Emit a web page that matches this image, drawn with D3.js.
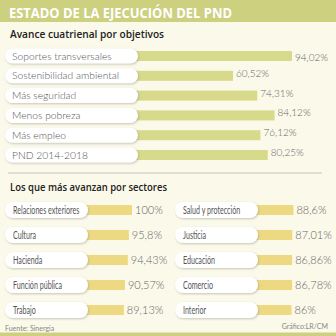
<!DOCTYPE html>
<html>
<head>
<meta charset="utf-8">
<script src="https://cdn.jsdelivr.net/npm/d3@7/dist/d3.min.js"></script>
<style>
  html, body { margin: 0; padding: 0; background: #fbf9ea; }
  svg { display: block; }
</style>
</head>
<body>
<script>
// Avance cuatrienal por objetivos
const objetivos = ["Soportes transversales", "Sostenibilidad ambiental", "Más seguridad", "Menos pobreza", "Más empleo", "PND 2014-2018"];
const objetivosValores = [94.02, 60.52, 74.31, 84.12, 76.12, 80.25];
const objetivosEtiquetas = ["94,02%", "60,52%", "74,31%", "84,12%", "76,12%", "80,25%"];

// Los que más avanzan por sectores (two columns)
const sectoresIzq = ["Relaciones exteriores", "Cultura", "Hacienda", "Función pública", "Trabajo"];
const valoresIzq = [100, 95.8, 94.43, 90.57, 89.13];
const etiquetasIzq = ["100%", "95,8%", "94,43%", "90,57%", "89,13%"];
const sectoresDer = ["Salud y protección", "Justicia", "Educación", "Comercio", "Interior"];
const valoresDer = [88.6, 87.01, 86.86, 86.78, 86];
const etiquetasDer = ["88,6%", "87,01%", "86,86%", "86,78%", "86%"];

const W = 336, H = 336;
const svg = d3.select("body").append("svg").attr("width", W).attr("height", H);

const defs = svg.append("defs");
const f = defs.append("filter").attr("id", "sh").attr("x", "-10%").attr("y", "-30%").attr("width", "120%").attr("height", "170%");
f.append("feDropShadow").attr("dx", 0.8).attr("dy", 1).attr("stdDeviation", 0.8).attr("flood-color", "#9a9a8a").attr("flood-opacity", 0.55);

svg.append("rect").attr("width", W).attr("height", H).attr("fill", "#fbf9ea");

// Header band
svg.append("rect").attr("x", 0).attr("y", 0).attr("width", W).attr("height", 22).attr("fill", "#cdd07f");
svg.append("text").attr("x", 9).attr("y", 17.5)
  .attr("font-family", "'Open Sans', sans-serif").attr("font-weight", 700).attr("font-size", 14.5)
  .attr("fill", "#ffffff").attr("textLength", 223).attr("lengthAdjust", "spacingAndGlyphs")
  .text("ESTADO DE LA EJECUCIÓN DEL PND");

// Bottom strip
svg.append("rect").attr("x", 0).attr("y", 332.5).attr("width", W).attr("height", 4).attr("fill", "#cdd07f");

// Section titles
svg.append("text").attr("x", 10).attr("y", 38)
  .attr("font-family", "'Open Sans', sans-serif").attr("font-weight", 600).attr("font-size", 11)
  .attr("fill", "#222").attr("textLength", 154).attr("lengthAdjust", "spacingAndGlyphs")
  .text("Avance cuatrienal por objetivos");

svg.append("text").attr("x", 10).attr("y", 191)
  .attr("font-family", "'Open Sans', sans-serif").attr("font-weight", 600).attr("font-size", 11)
  .attr("fill", "#222").attr("textLength", 157).attr("lengthAdjust", "spacingAndGlyphs")
  .text("Los que más avanzan por sectores");

svg.append("line").attr("x1", 8).attr("x2", 322).attr("y1", 173).attr("y2", 173)
  .attr("stroke", "#c4c4bc").attr("stroke-width", 1);

// Top chart
const xTop = d3.scaleLinear().domain([0, 100]).range([126.4, 302.5]);
const yTop = d3.scalePoint().domain(objetivos).range([56, 155]);
const topRows = objetivos.map((c, i) => ({ c, v: objetivosValores[i], l: objetivosEtiquetas[i] }));

const gTop = svg.append("g");
gTop.selectAll("rect.bar").data(topRows).join("rect").attr("class", "bar")
  .attr("x", xTop(0)).attr("y", d => yTop(d.c) - 5)
  .attr("width", d => xTop(d.v) - xTop(0)).attr("height", 10)
  .attr("fill", "#d7d98b");
gTop.selectAll("rect.pill").data(topRows).join("rect").attr("class", "pill")
  .attr("x", 5).attr("y", d => yTop(d.c) - 7.5)
  .attr("width", 133).attr("height", 15).attr("rx", 7.5)
  .attr("fill", "#ffffff").attr("filter", "url(#sh)");
gTop.selectAll("text.lab").data(topRows).join("text").attr("class", "lab")
  .attr("x", 12).attr("y", d => yTop(d.c) + 3.6)
  .attr("font-family", "Lato, sans-serif").attr("font-weight", 300).attr("font-size", 10.3)
  .attr("fill", "#555").text(d => d.c);
gTop.selectAll("text.val").data(topRows).join("text").attr("class", "val")
  .attr("x", d => xTop(d.v) + 3).attr("y", d => yTop(d.c) + (d.c === objetivos[0] ? 5 : 1))
  .attr("font-family", "Lato, sans-serif").attr("font-weight", 300).attr("font-size", 10)
  .attr("fill", "#666").text(d => d.l);

// Bottom two-column chart
function sectorColumn(cats, vals, labs, offset) {
  const x = d3.scaleLinear().domain([0, 100]).range([57 + offset, 132 + offset]);
  const y = d3.scalePoint().domain(cats).range([210, 310]);
  const data = cats.map((c, i) => ({ c, v: vals[i], l: labs[i] }));
  const g = svg.append("g");
  g.selectAll("rect.bar").data(data).join("rect").attr("class", "bar")
    .attr("x", x(0)).attr("y", d => y(d.c) - 5)
    .attr("width", d => x(d.v) - x(0)).attr("height", 10)
    .attr("fill", "#ecd982");
  g.selectAll("rect.pill").data(data).join("rect").attr("class", "pill")
    .attr("x", 5 + offset).attr("y", d => y(d.c) - 8)
    .attr("width", 83).attr("height", 16).attr("rx", 8)
    .attr("fill", "#ffffff").attr("filter", "url(#sh)");
  // condensed labels
  g.selectAll("text.lab").data(data).join("text").attr("class", "lab")
    .attr("transform", d => `translate(${13 + offset},${y(d.c) + 3.5}) scale(0.68,1)`)
    .attr("font-family", "Lato, sans-serif").attr("font-size", 10.5)
    .attr("fill", "#555").text(d => d.c);
  g.selectAll("text.val").data(data).join("text").attr("class", "val")
    .attr("x", d => x(d.v) + 3).attr("y", d => y(d.c) + 4)
    .attr("font-family", "Lato, sans-serif").attr("font-weight", 300).attr("font-size", 11)
    .attr("fill", "#666").text(d => d.l);
}
sectorColumn(sectoresIzq, valoresIzq, etiquetasIzq, 0);
sectorColumn(sectoresDer, valoresDer, etiquetasDer, 170);

// Footer
svg.append("text").attr("x", 5).attr("y", 331)
  .attr("font-family", "Lato, sans-serif").attr("font-size", 7).attr("fill", "#888")
  .text("Fuente: Sinergia");
svg.append("text").attr("x", 328).attr("y", 329).attr("text-anchor", "end")
  .attr("font-family", "Lato, sans-serif").attr("font-size", 7).attr("fill", "#888")
  .text("Gráfico:LR/CM");
</script>
</body>
</html>
